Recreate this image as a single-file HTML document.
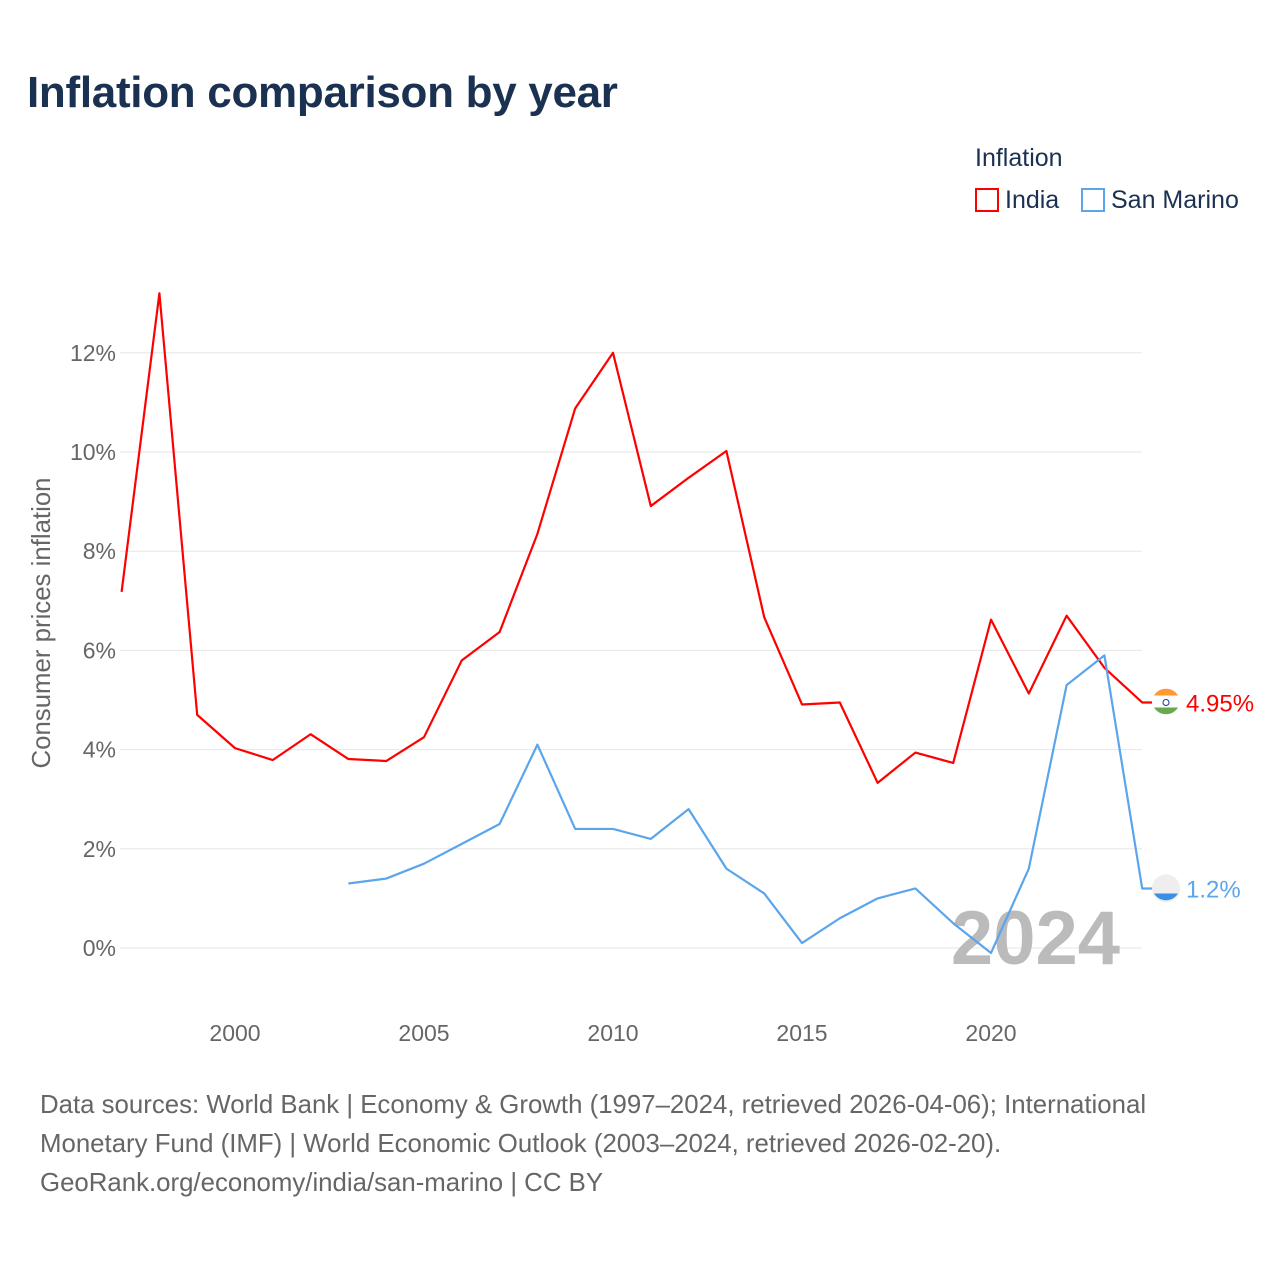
<!DOCTYPE html>
<html><head><meta charset="utf-8">
<style>
body{margin:0;background:#fff;font-family:"Liberation Sans",sans-serif;}
#wrap{position:relative;width:1280px;height:1280px;overflow:hidden;}
.title{position:absolute;left:27px;top:68px;font-size:44px;font-weight:bold;color:#1a3152;letter-spacing:-0.3px}
.src{position:absolute;left:40px;top:1086px;font-size:25.8px;line-height:39px;color:#666;white-space:nowrap}
.leg{position:absolute;font-size:25px;color:#1a3152}
</style></head><body>
<div id="wrap">
<div class="title">Inflation comparison by year</div>
<div class="leg" style="left:975px;top:144px">Inflation</div>
<div class="leg" style="left:975px;top:186px"><span style="display:inline-block;width:24px;height:24px;border:2px solid #f00;box-sizing:border-box;vertical-align:-4px;margin-right:6px"></span>India</div>
<div class="leg" style="left:1081px;top:186px"><span style="display:inline-block;width:24px;height:24px;border:2px solid #5aa5ec;box-sizing:border-box;vertical-align:-4px;margin-right:6px"></span>San Marino</div>
<svg id="chart" width="1280" height="1280" style="position:absolute;left:0;top:0"></svg>
<div class="src">Data sources: World Bank | Economy &amp; Growth (1997–2024, retrieved 2026-04-06); International<br>Monetary Fund (IMF) | World Economic Outlook (2003–2024, retrieved 2026-02-20).<br>GeoRank.org/economy/india/san-marino | CC BY</div>
</div>
<script>
const indiaYears=[1997,1998,1999,2000,2001,2002,2003,2004,2005,2006,2007,2008,2009,2010,2011,2012,2013,2014,2015,2016,2017,2018,2019,2020,2021,2022,2023,2024];
const indiaValues=[7.18,13.2,4.70,4.03,3.79,4.31,3.81,3.77,4.25,5.80,6.37,8.35,10.88,12.0,8.91,9.48,10.02,6.67,4.91,4.95,3.33,3.94,3.73,6.62,5.13,6.70,5.65,4.95];
const smYears=[2003,2004,2005,2006,2007,2008,2009,2010,2011,2012,2013,2014,2015,2016,2017,2018,2019,2020,2021,2022,2023,2024];
const smValues=[1.3,1.4,1.7,2.1,2.5,4.1,2.4,2.4,2.2,2.8,1.6,1.1,0.1,0.6,1.0,1.2,0.5,-0.1,1.6,5.3,5.9,1.2];
const yTicks=[0,2,4,6,8,10,12];
const xTicks=[2000,2005,2010,2015,2020];
const NS="http://www.w3.org/2000/svg";
const svg=document.getElementById('chart');
const x=v=>235+(v-2000)*37.8;
const y=v=>948-v*49.6;
function mk(t,a){const e=document.createElementNS(NS,t);for(const k in a)e.setAttribute(k,a[k]);svg.appendChild(e);return e;}
yTicks.forEach(t=>{
 const l=mk('line',{x1:120,x2:1142,y1:y(t),y2:y(t),stroke:'#e6e6e6','stroke-width':1});
 
 
 const tx=mk('text',{x:116,y:y(t)+8,'text-anchor':'end','font-size':23,fill:'#666','font-family':'Liberation Sans'});
 tx.textContent=t+'%';
 
 
});
xTicks.forEach(t=>{
 const tx=mk('text',{x:x(t),y:1041,'text-anchor':'middle','font-size':23,fill:'#666','font-family':'Liberation Sans'});
 tx.textContent=t;
 
 
});
const yt=mk('text',{x:0,y:0,transform:'translate(50,623) rotate(-90)','text-anchor':'middle','font-size':25.8,fill:'#666','font-family':'Liberation Sans'});
yt.textContent='Consumer prices inflation';


const yr=mk('text',{x:1120,y:964,'text-anchor':'end','font-size':76,'font-weight':'bold',fill:'#bbb','font-family':'Liberation Sans'});
yr.textContent='2024';


function series(ys,vs,col,name,lbl,c1col,c2col,c3col){
 const d=ys.map((yy,i)=>(i?'L':'M')+x(yy)+','+y(vs[i])).join(' ');
 const p=mk('path',{d:d+' L1166,'+y(vs[vs.length-1]),fill:'none',stroke:col,'stroke-width':2.2,'stroke-linejoin':'round'});
 
 
 const cy=y(vs[vs.length-1]);
 const bg=mk('circle',{cx:1166,cy:cy,r:14,fill:c2col});
 
 
 const top=mk('path',{d:`M1154,${cy-7} A14,14 0 0,1 1178,${cy-7} Z`,fill:c1col});
 
 
 const bot=mk('path',{d:`M1154,${cy+5} A14,14 0 0,0 1178,${cy+5} Z`,fill:c3col});
 
 
 const t=mk('text',{x:1186,y:cy+9,'font-size':24,fill:col,'font-family':'Liberation Sans'});
 t.textContent=lbl;
 
 
}
series(indiaYears,indiaValues,'#ff0000','india',indiaValues[indiaValues.length-1]+'%','#ff9933','#ffffff','#6aa84f');
series(smYears,smValues,'#5aa5ec','san-marino',smValues[smValues.length-1]+'%','#eeeeee','#eeeeee','#3a8ee6');
const chakra=mk('circle',{cx:1166,cy:y(indiaValues[indiaValues.length-1]),r:3,fill:'none',stroke:'#1a3a8a','stroke-width':1});


</script>
</body></html>
